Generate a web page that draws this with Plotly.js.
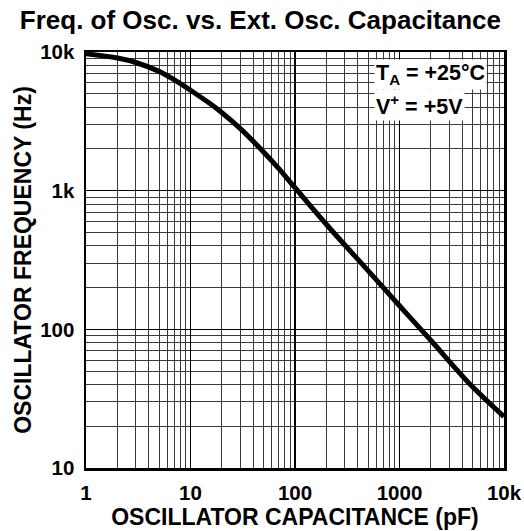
<!DOCTYPE html>
<html>
<head>
<meta charset="utf-8">
<script src="https://cdn.plot.ly/plotly-3.0.1.min.js"></script>
<style>html,body{margin:0;padding:0;background:#fff;}#chart{width:524px;height:531px;}</style>
</head>
<body>
<div id="chart"></div>
<script>
// Data
const capacitancePF = [1, 2, 3, 5, 7, 10, 15, 20, 30, 50, 70, 100, 200, 500, 1000, 2000, 5000, 10000];
const frequencyHz   = [9700, 9050, 8400, 7250, 6300, 5300, 4300, 3650, 2800, 1900, 1440, 1050, 570, 265, 148, 83, 38.5, 23.5];

const xTickVals = [1, 10, 100, 1000, 10000];
const xTickText = ['1', '10', '100', '1000', '10k'];
const yTickVals = [10, 100, 1000, 10000];
const yTickText = ['10', '100', '1k', '10k'];

const minorMultipliers = [2, 3, 4, 5, 6, 7, 8, 9];
function minorVals(decades) {
  const out = [];
  decades.forEach(d => minorMultipliers.forEach(m => out.push(d * m)));
  return out;
}

const FONT = 'Liberation Sans, Arial, sans-serif';

const trace = {
  x: capacitancePF,
  y: frequencyHz,
  type: 'scatter',
  mode: 'lines',
  line: {color: '#000', width: 5, shape: 'spline', smoothing: 1},
  hoverinfo: 'skip'
};

const axisCommon = {
  type: 'log',
  showline: true,
  mirror: true,
  linecolor: '#000',
  linewidth: 2.5,
  showgrid: true,
  gridcolor: '#000',
  gridwidth: 1.6,
  ticks: '',
  zeroline: false,
  ticklabelstandoff: 5,
  tickfont: {family: FONT, size: 20.5, color: '#000', weight: 'bold'}
};

const layout = {
  width: 524,
  height: 531,
  margin: {l: 86, r: 20, t: 52, b: 63},
  paper_bgcolor: '#fff',
  plot_bgcolor: '#fff',
  showlegend: false,
  title: {
    text: '<b>Freq. of Osc. vs. Ext. Osc. Capacitance</b>',
    font: {family: FONT, size: 26, color: '#000'},
    x: 0.497, xanchor: 'center', xref: 'container', y: 0.962, yanchor: 'middle'
  },
  xaxis: Object.assign({}, axisCommon, {
    range: [0, 4],
    tickmode: 'array',
    tickvals: xTickVals,
    ticktext: xTickText,
    title: {text: '<b>OSCILLATOR CAPACITANCE (pF)</b>', font: {family: FONT, size: 23, color: '#000'}, standoff: 2},
    minor: {tickmode: 'array', tickvals: minorVals([1, 10, 100, 1000]), showgrid: true, gridcolor: '#3a3a3a', gridwidth: 1, ticks: ''}
  }),
  yaxis: Object.assign({}, axisCommon, {
    range: [1, 4],
    tickmode: 'array',
    tickvals: yTickVals,
    ticktext: yTickText,
    title: {text: '<b>OSCILLATOR FREQUENCY (Hz)</b>', font: {family: FONT, size: 23, color: '#000'}, standoff: 2},
    minor: {tickmode: 'array', tickvals: minorVals([10, 100, 1000]), showgrid: true, gridcolor: '#3a3a3a', gridwidth: 1, ticks: ''}
  }),
  annotations: [
    {
      xref: 'paper', yref: 'paper', x: 0.689, y: 0.945, xanchor: 'left', yanchor: 'middle',
      text: '<b>T<sub>A</sub> = +25°C</b>', showarrow: false, bgcolor: '#fff', borderpad: 1,
      font: {family: FONT, size: 21.5, color: '#000'}
    },
    {
      xref: 'paper', yref: 'paper', x: 0.689, y: 0.872, xanchor: 'left', yanchor: 'middle',
      text: '<b>V<sup>+</sup> = +5V</b>', showarrow: false, bgcolor: '#fff', borderpad: 1,
      font: {family: FONT, size: 21.5, color: '#000'}
    }
  ]
};

Plotly.newPlot('chart', [trace], layout, {staticPlot: true, displayModeBar: false});
</script>
</body>
</html>
